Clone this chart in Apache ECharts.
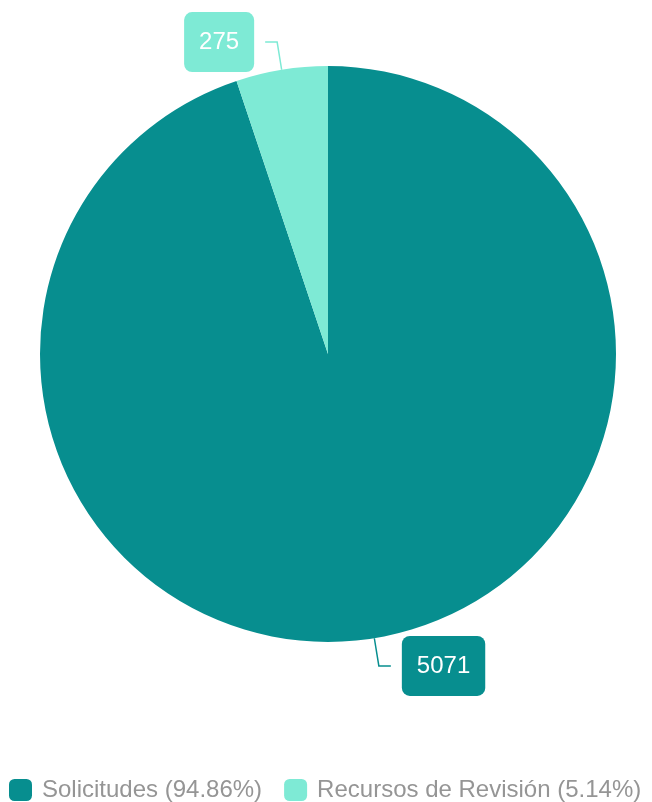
<!DOCTYPE html>
<html>
<head>
<meta charset="utf-8">
<script src="https://cdn.jsdelivr.net/npm/echarts@6/dist/echarts.min.js"></script>
<style>html,body{margin:0;padding:0;background:#fff}#c{width:652px;height:802px}</style>
</head>
<body>
<div id="c"></div>
<script>
const categories = ["Solicitudes", "Recursos de Revisión"];
const values = [5071, 275];
const colors = ["#078e8f", "#7eead5"];

const total = values.reduce((a, b) => a + b, 0);
const pct = {};
categories.forEach((c, i) => { pct[c] = (values[i] / total * 100).toFixed(2); });

const chart = echarts.init(document.getElementById('c'));
chart.setOption({
  animation: false,
  legend: {
    left: 4,
    top: 773,
    padding: 5,
    itemWidth: 23,
    itemHeight: 22,
    itemGap: 22,
    icon: 'roundRect',
    textStyle: { color: '#959595', fontSize: 24, fontFamily: '"Liberation Sans", Arial, sans-serif', padding: [0, 0, 0, 5] },
    formatter: name => name + ' (' + pct[name] + '%)'
  },
  series: [{
    type: 'pie',
    center: [328, 354],
    radius: [0, 288],
    startAngle: 90,
    clockwise: true,
    data: categories.map((c, i) => ({
      name: c,
      value: values[i],
      itemStyle: { color: colors[i] },
      label: { backgroundColor: colors[i] }
    })),
    label: {
      show: true,
      formatter: '{c}',
      color: '#ffffff',
      fontSize: 24,
      fontFamily: '"Liberation Sans", Arial, sans-serif',
      padding: [18, 15],
      borderRadius: 8,
      distanceToLabelLine: 11
    },
    labelLine: {
      show: true,
      length: 28,
      length2: 12,
      lineStyle: { width: 1.5 }
    }
  }]
});
</script>
</body>
</html>
